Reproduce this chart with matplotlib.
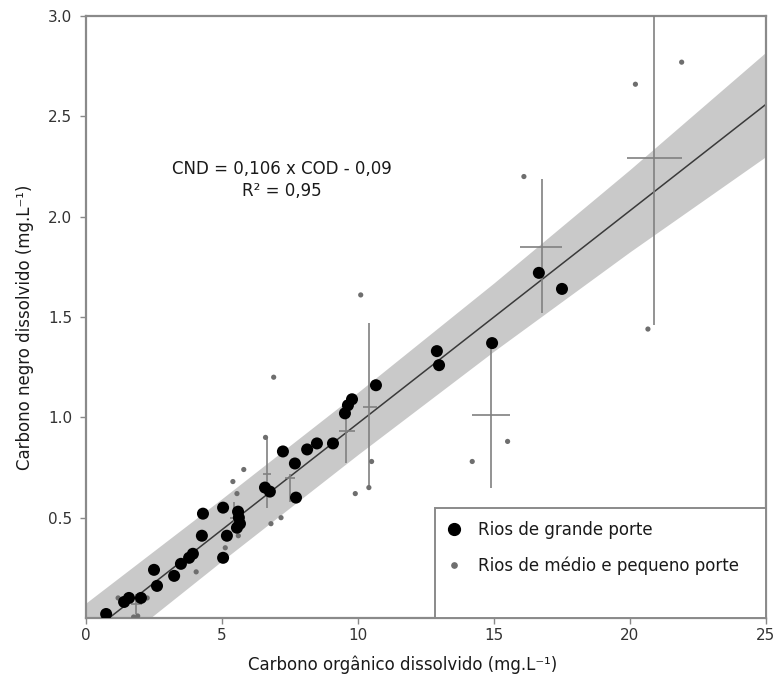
import matplotlib
matplotlib.use("Agg")
import matplotlib.pyplot as plt
from matplotlib.patches import Rectangle
from matplotlib.lines import Line2D
import numpy as np

plt.rcParams['font.family'] = ['DejaVu Sans']

# Large rivers (Rios de grande porte)
big_x = [0.74, 1.40, 1.58, 2.02, 2.50, 2.61, 3.24, 3.49, 3.79, 3.93, 4.26, 4.30,
         5.04, 5.18, 5.04, 5.59, 5.62, 5.66, 5.55, 6.58, 6.76, 7.24, 7.68, 7.72,
         8.13, 8.49, 9.08, 9.52, 9.63, 9.78, 10.66, 12.90, 12.98, 14.93, 16.65, 17.50]
big_y = [0.02, 0.08, 0.10, 0.10, 0.24, 0.16, 0.21, 0.27, 0.30, 0.32, 0.41, 0.52,
         0.55, 0.41, 0.30, 0.53, 0.50, 0.47, 0.45, 0.65, 0.63, 0.83, 0.77, 0.60,
         0.84, 0.87, 0.87, 1.02, 1.06, 1.09, 1.16, 1.33, 1.26, 1.37, 1.72, 1.64]

# Medium and small rivers (Rios de médio e pequeno porte)
small_x = [1.18, 1.75, 1.90, 2.25, 4.05, 5.12, 5.60, 5.40, 5.55, 5.80, 6.60, 6.80,
           6.90, 7.17, 9.90, 10.10, 10.40, 10.50, 14.20, 15.50, 16.10, 20.20, 20.66, 21.90]
small_y = [0.10, 0.005, 0.01, 0.10, 0.23, 0.35, 0.41, 0.68, 0.62, 0.74, 0.90, 0.47,
           1.20, 0.50, 0.62, 1.61, 0.65, 0.78, 0.78, 0.88, 2.20, 2.66, 1.44, 2.77]

# Mean +/- range crosses
cross_x = [1.85, 5.44, 6.65, 7.50, 9.56, 10.40, 14.90, 16.76, 20.90]
cross_y = [0.07, 0.50, 0.72, 0.70, 0.93, 1.05, 1.01, 1.85, 2.29]
cross_xlo = [1.65, 5.30, 6.50, 7.30, 9.30, 10.20, 14.20, 15.96, 19.90]
cross_xhi = [2.05, 5.60, 6.80, 7.70, 9.90, 10.70, 15.60, 17.50, 21.90]
cross_ylo = [0.02, 0.43, 0.55, 0.58, 0.77, 0.64, 0.65, 1.52, 1.46]
cross_yhi = [0.12, 0.58, 0.90, 0.72, 1.00, 1.47, 1.37, 2.19, 3.30]

# Regression and confidence band
slope, intercept = 0.106, -0.09
band_x = [0, 5, 10, 15, 20, 25]
band_hw = [0.165, 0.155, 0.155, 0.17, 0.205, 0.26]

fig = plt.figure(figsize=(7.77, 6.81), dpi=100)
ax = fig.add_axes([0.1107, 0.0925, 0.8751, 0.884])

bx = np.array(band_x, dtype=float)
bline = slope * bx + intercept
ax.fill_between(bx, bline - np.array(band_hw), bline + np.array(band_hw),
                color='#c9c9c9', linewidth=0, zorder=1)
lx = np.array([0.0, 25.0])
ax.plot(lx, slope * lx + intercept, color='#3a3a3a', linewidth=1.1, zorder=2)

cx = np.array(cross_x); cy = np.array(cross_y)
ax.errorbar(cx, cy,
            xerr=[cx - np.array(cross_xlo), np.array(cross_xhi) - cx],
            yerr=[cy - np.array(cross_ylo), np.array(cross_yhi) - cy],
            fmt='none', ecolor='#808080', elinewidth=1.2, capsize=0, zorder=3)

ax.scatter(small_x, small_y, s=14, color='#6e6e6e', edgecolors='none', zorder=4)
ax.scatter(big_x, big_y, s=75, color='black', edgecolors='none', zorder=5)

ax.set_xlim(0, 25)
ax.set_ylim(0, 3.0)
ax.set_xticks([0, 5, 10, 15, 20, 25])
ax.set_xticklabels(['0', '5', '10', '15', '20', '25'])
ax.set_yticks([0.5, 1.0, 1.5, 2.0, 2.5, 3.0])
ax.set_yticklabels(['0.5', '1.0', '1.5', '2.0', '2.5', '3.0'])
ax.tick_params(direction='out', length=4, width=1, color='#888888',
               labelsize=11, labelcolor='#333333', pad=6)
ax.tick_params(axis='x', pad=3)

for s in ax.spines.values():
    s.set_color('#8a8a8a')
    s.set_linewidth(1.6)

ax.set_xlabel('Carbono orgânico dissolvido (mg.L⁻¹)', fontsize=12, color='#1a1a1a')
ax.set_ylabel('Carbono negro dissolvido (mg.L⁻¹)', fontsize=12, color='#1a1a1a')
ax.xaxis.set_label_coords(0.465, -0.062)
ax.yaxis.set_label_coords(-0.077, 0.483)

ax.text(7.2, 2.24, 'CND = 0,106 x COD - 0,09', ha='center', va='center', fontsize=12, color='#1a1a1a')
ax.text(7.2, 2.13, 'R² = 0,95', ha='center', va='center', fontsize=12, color='#1a1a1a')

# legend box
ax.add_patch(Rectangle((0.513, 0.0), 0.487, 0.183, transform=ax.transAxes,
                       facecolor='white', edgecolor='#8a8a8a', linewidth=1.4, zorder=6))
handles = [Line2D([], [], marker='o', linestyle='none', color='black', markersize=8.5),
           Line2D([], [], marker='o', linestyle='none', color='#6e6e6e', markersize=3.8)]
leg = ax.legend(handles, ['Rios de grande porte', 'Rios de médio e pequeno porte'],
                loc='upper left', bbox_to_anchor=(0.505, 0.186), frameon=False,
                fontsize=12, handletextpad=0.8, labelspacing=1.05, handlelength=1.2)
leg.set_zorder(7)
for t in leg.get_texts():
    t.set_color('#1a1a1a')

fig.savefig('out.png', dpi=100)
